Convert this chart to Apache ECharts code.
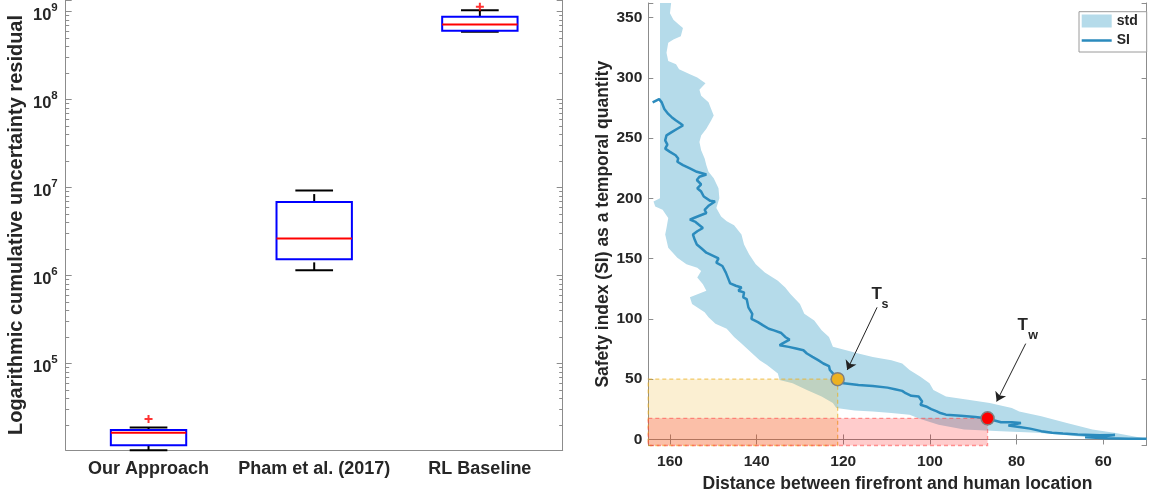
<!DOCTYPE html>
<html><head><meta charset="utf-8">
<script src="https://cdn.jsdelivr.net/npm/echarts@6/dist/echarts.min.js"></script>
<style>html,body{margin:0;padding:0;background:#fff}#c{width:1155px;height:501px}</style>
</head><body><div id="c"></div>
<script>
// ---------- Left panel: box plot (log scale) ----------
const categories = ['Our Approach', 'Pham et al. (2017)', 'RL Baseline'];
const whiskerLow = [1.03e4, 1.14e6, 5.87e8];
const quartile1 = [1.17e4, 1.53e6, 6.02e8];
const medians = [1.63e4, 2.63e6, 7.11e8];
const quartile3 = [1.75e4, 6.81e6, 8.69e8];
const whiskerHigh = [1.87e4, 9.25e6, 1.035e9];
const outlierCategory = [0, 2];
const outlierValue = [2.33e4, 1.13e9];
const logRange = [10350, 1.35e9];
const minorTickMantissas = [2, 3, 4, 5, 6, 7, 8, 9];
const minorTickDecades = [4, 5, 6, 7, 8];

// ---------- Right panel: safety index ----------
const siDistance = [164.0,162.5,161.9,161.3,160.4,159.6,158.6,157.5,157.0,158.3,159.6,160.8,161.1,160.6,161.1,160.0,158.7,158.1,158.3,157.0,155.4,153.8,151.6,153.2,153.8,152.8,153.7,152.8,152.2,150.7,149.6,151.0,152.0,151.6,154.5,155.4,154.1,152.4,153.7,154.7,154.3,153.8,152.7,151.6,149.9,148.8,149.3,147.9,147.1,146.5,146.1,144.8,143.5,144.2,142.9,143.1,142.3,141.9,141.0,141.2,139.7,138.5,137.2,136.0,134.3,133.4,132.4,134.1,134.7,132.6,130.9,129.2,128.4,127.1,125.8,124.6,123.3,123.1,122.4,121.8,121.3,
  120.8,119.9,116.5,113.2,109.8,108.1,106.4,105.6,104.3,102.6,101.8,102.2,100.9,99.7,98.4,97.6,96.3,92.9,89.5,86.7,
  85.3,83.6,81.1,79.0,81.9,79.4,76.9,74.3,71.8,69.3,65.9,60.8,57.3,60.8,64.2,59.2,54.1,50.0];
const siValue = [279.6,282.3,279.6,274.1,270.0,267.3,264.5,261.8,260.4,257.7,254.9,252.2,248.1,244.5,241.2,238.5,235.7,233.0,230.3,227.5,224.8,222.0,219.8,217.9,215.2,211.6,208.3,205.6,201.5,197.9,197.4,194.1,190.5,187.8,183.7,182.3,180.4,175.4,172.7,170.0,165.8,161.7,158.4,154.9,152.1,150.2,146.7,143.9,138.4,133.0,129.4,127.5,126.1,123.4,122.0,117.9,116.5,109.6,104.2,100.1,97.3,94.6,91.8,90.5,88.3,85.0,82.8,79.5,78.1,76.8,75.4,74.0,71.3,68.5,65.8,63.0,60.9,57.6,54.8,52.1,50.0,
  48.0,46.6,45.2,44.4,43.0,41.7,40.3,38.4,36.2,35.6,31.5,28.8,27.4,25.2,23.3,21.9,20.6,19.7,18.6,17.5,
  15.9,14.3,14.3,13.7,11.5,10.4,9.0,6.9,5.5,4.9,4.1,3.6,3.8,2.2,1.9,1.1,0.5,0.5];

const stdOuterDistance = [162.3,162.3,163.8,163.4,161.7,160.4,160.8,161.1,160.4,158.3,156.2,153.7,152.8,153.7,152.4,151.6,155.4,154.9,152.0,151.1,149.5,146.9,145.2,143.5,141.0,139.3,137.6,135.1,134.7,131.7,128.4,125.0,122.4,121.6,117.4,113.2,108.9,104.7,102.2,98.0,92.1,83.6,75.2,68.4,62.5,57.5,50.0];
const stdOuterValue = [366,200.1,197.4,193.3,190.5,183.7,175.4,170.0,159.0,150.8,145.3,142.5,139.8,134.3,128.8,123.4,117.9,112.4,105.5,101.4,95.9,91.8,85.0,79.5,71.3,65.8,61.7,54.8,49.3,46.6,41.1,35.6,30.2,26.0,24.1,23.3,21.9,20.6,17.0,12.3,8.2,6.9,5.5,3.6,1.4,0.5,0.0];
const stdInnerDistance = [159.6,160.0,159.2,157.9,157.0,157.5,159.2,160.4,160.8,160.4,158.6,157.9,155.4,153.7,151.8,153.2,152.8,151.1,149.9,150.5,151.6,152.8,153.2,152.8,152.0,151.6,151.1,149.9,148.8,148.6,149.3,148.2,146.9,145.2,143.5,142.9,141.7,140.2,138.1,135.1,133.4,132.2,130.0,129.0,126.7,125.0,123.3,122.4,116.5,113.2,108.9,106.4,104.7,102.2,100.1,99.2,96.3,91.2,86.2,81.1,79.4,74.3,68.4,62.5,57.5,50.0];
const stdInnerValue = [366,353.6,348.1,344.0,341.3,334.4,331.7,329.0,320.7,313.9,311.1,307.0,302.9,300.2,295.5,290.0,285.1,279.6,268.6,264.5,257.7,252.2,246.7,239.9,233.0,227.5,222.0,216.6,208.3,200.1,191.9,185.0,180.9,177.6,170.0,161.7,153.5,145.3,138.4,131.6,126.1,120.6,112.4,104.2,98.7,90.5,85.0,76.8,71.3,68.5,65.8,63.0,57.6,52.1,46.6,41.1,35.6,32.9,30.2,26.0,23.3,19.2,13.7,8.2,5.5,0.5];

const distanceRange = [50, 165];
const siRange = [-5, 362];
const tsPoint = [121.3, 50];
const twPoint = [86.7, 17.5];
const arrowTs = [[112.2, 109.6], [119.1, 57.6]];
const arrowTw = [[77.9, 79.5], [84.6, 31.5]];
const markLetters = ['T', 'T'];
const markLetterPos = [[112.3, 120.6], [78.6, 94.6]];
const subLetters = ['s', 'w'];
const subLetterPos = [[110.4, 111.8], [76.2, 86.4]];

// ---------- styles ----------
const FONT = '"Liberation Sans", Arial, Helvetica, sans-serif';
const TXT = '#262626';
const AX = '#8c8c8c';
const BAND = '#b5dbea';
const SI_COLOR = '#2b8bbd';

const chart = echarts.init(document.getElementById('c'), null, {renderer: 'canvas'});

const minorTickValues = [];
minorTickDecades.forEach(d => minorTickMantissas.forEach(m => minorTickValues.push(m * Math.pow(10, d))));

function renderBox(params, api) {
  const i = api.value(0);
  const low = api.coord([i, api.value(1)]);
  const q1 = api.coord([i, api.value(2)]);
  const med = api.coord([i, api.value(3)]);
  const q3 = api.coord([i, api.value(4)]);
  const high = api.coord([i, api.value(5)]);
  const band = api.size([1, 1], [i, 1e6])[0];
  const h = band * 0.2275;
  const c = h / 2;
  const x = q1[0];
  const wStyle = {stroke: '#000', lineWidth: 2, lineDash: [8, 4]};
  const capStyle = {stroke: '#000', lineWidth: 2};
  return {type: 'group', children: [
    {type: 'line', shape: {x1: x, y1: q3[1], x2: x, y2: high[1]}, style: wStyle},
    {type: 'line', shape: {x1: x, y1: low[1], x2: x, y2: q1[1]}, style: wStyle},
    {type: 'line', shape: {x1: x - c, y1: high[1], x2: x + c, y2: high[1]}, style: capStyle},
    {type: 'line', shape: {x1: x - c, y1: low[1], x2: x + c, y2: low[1]}, style: capStyle},
    {type: 'rect', shape: {x: x - h, y: q3[1], width: 2 * h, height: q1[1] - q3[1]}, style: {fill: 'none', stroke: '#0000ff', lineWidth: 2}},
    {type: 'line', shape: {x1: x - h, y1: med[1], x2: x + h, y2: med[1]}, style: {stroke: '#ff0000', lineWidth: 2}}
  ]};
}

function renderMinorTicks(params, api) {
  const cs = params.coordSys;
  const y = Math.round(api.coord([0, api.value(1)])[1]) + 0.5;
  const st = {stroke: AX, lineWidth: 1};
  return {type: 'group', children: [
    {type: 'line', shape: {x1: cs.x, y1: y, x2: cs.x + 3.5, y2: y}, style: st},
    {type: 'line', shape: {x1: cs.x + cs.width - 3.5, y1: y, x2: cs.x + cs.width, y2: y}, style: st}
  ]};
}

function renderBand(params, api) {
  const pts = [];
  for (let k = 0; k < stdOuterDistance.length; k++) pts.push(api.coord([stdOuterDistance[k], stdOuterValue[k]]));
  for (let k = stdInnerDistance.length - 1; k >= 0; k--) pts.push(api.coord([stdInnerDistance[k], stdInnerValue[k]]));
  return {type: 'polygon', shape: {points: pts}, style: {fill: BAND, stroke: 'none'}};
}

function rectRenderer(fill, stroke) {
  return function (params, api) {
    const a = api.coord([api.value(0), api.value(1)]);
    const b = api.coord([api.value(2), api.value(3)]);
    return {type: 'rect', shape: {x: Math.min(a[0], b[0]), y: Math.min(a[1], b[1]), width: Math.abs(b[0] - a[0]), height: Math.abs(b[1] - a[1])},
      style: {fill: fill, stroke: stroke, lineWidth: 1.3, lineDash: [4, 3]}};
  };
}

function textRenderer(texts, size) {
  return function (params, api) {
    const p = api.coord([api.value(0), api.value(1)]);
    return {type: 'text', x: p[0], y: p[1], style: {text: texts[params.dataIndex], fill: TXT,
      fontSize: size, fontWeight: 'bold', fontFamily: FONT, align: 'center', verticalAlign: 'middle'}};
  };
}

function logLabel(v) {
  const e = Math.log10(v);
  if (Math.abs(e - Math.round(e)) > 1e-6) return '';
  return '{b|10}{e|' + Math.round(e) + '}';
}

const boldText = {color: TXT, fontFamily: FONT, fontWeight: 'bold'};
const SI_ICON = 'path://M0,0H30V0.01H0Z M0,5.25H30V7.75H0Z M0,12.99H30V13H0Z';

const option = {
  animation: false,
  backgroundColor: '#fff',
  textStyle: {fontFamily: FONT},
  grid: [
    {left: 65.7, top: 0, width: 497, height: 450},
    {left: 648.3, top: 3, width: 498.3, height: 442.5}
  ],
  legend: {
    orient: 'vertical', left: 1079, top: 11.7,
    itemWidth: 30, itemHeight: 13, itemGap: 5.6,
    padding: [2.3, 9, 4.4, 2.7],
    borderColor: '#9a9a9a', borderWidth: 1, backgroundColor: '#fff',
    textStyle: Object.assign({fontSize: 14}, boldText),
    data: [{name: 'std', icon: 'rect'}, {name: 'SI', icon: SI_ICON}]
  },
  xAxis: [
    {type: 'category', gridIndex: 0, data: categories,
     axisLine: {lineStyle: {color: AX}},
     axisTick: {inside: true, alignWithLabel: true, length: 5, lineStyle: {color: AX}},
     axisLabel: Object.assign({fontSize: 18, margin: 10, interval: 0}, boldText),
     splitLine: {show: false}},
    {type: 'category', gridIndex: 0, position: 'top', data: categories,
     axisLine: {show: false},
     axisTick: {inside: true, alignWithLabel: true, length: 5, lineStyle: {color: AX}},
     axisLabel: {show: false}, splitLine: {show: false}},
    {type: 'value', gridIndex: 1, inverse: true, min: distanceRange[0], max: distanceRange[1], splitNumber: 6,
     axisLine: {lineStyle: {color: AX}},
     axisTick: {inside: true, length: 5, lineStyle: {color: AX}},
     axisLabel: Object.assign({fontSize: 15.5, margin: 8, formatter: v => (v % 20 === 0 ? String(v) : '')}, boldText),
     splitLine: {show: false},
     name: 'Distance between firefront and human location', nameLocation: 'middle', nameGap: 30,
     nameTextStyle: Object.assign({fontSize: 17.5}, boldText)},
    {type: 'value', gridIndex: 1, inverse: true, position: 'top', min: distanceRange[0], max: distanceRange[1], splitNumber: 6,
     axisLine: {lineStyle: {color: AX}},
     axisTick: {inside: true, length: 5, lineStyle: {color: AX}},
     axisLabel: {show: false}, splitLine: {show: false}}
  ],
  yAxis: [
    {type: 'log', gridIndex: 0, min: logRange[0], max: logRange[1], logBase: 10,
     axisLine: {show: true, lineStyle: {color: AX}},
     axisTick: {show: true, inside: true, length: 6, lineStyle: {color: AX}},
     axisLabel: {margin: 8, formatter: logLabel, rich: {
       b: Object.assign({fontSize: 16.5, padding: [8, 0, 0, 0]}, boldText),
       e: Object.assign({fontSize: 11.5, padding: [0, 0, 8, 0]}, boldText)}},
     splitLine: {show: false},
     name: 'Logarithmic cumulative uncertainty residual', nameLocation: 'middle', nameGap: 39,
     nameTextStyle: Object.assign({fontSize: 20}, boldText)},
    {type: 'log', gridIndex: 0, position: 'right', min: logRange[0], max: logRange[1], logBase: 10,
     axisLine: {show: true, lineStyle: {color: AX}},
     axisTick: {show: true, inside: true, length: 6, lineStyle: {color: AX}},
     axisLabel: {show: false}, splitLine: {show: false}},
    {type: 'value', gridIndex: 1, min: siRange[0], max: siRange[1], splitNumber: 7,
     axisLine: {show: true, lineStyle: {color: AX}},
     axisTick: {show: true, inside: true, length: 5, lineStyle: {color: AX}},
     axisLabel: Object.assign({fontSize: 15.5, margin: 6, formatter: v => (v % 50 === 0 ? String(v) : '')}, boldText),
     splitLine: {show: false},
     name: 'Safety index (SI) as a temporal quantity', nameLocation: 'middle', nameGap: 35,
     nameTextStyle: Object.assign({fontSize: 17.5}, boldText)},
    {type: 'value', gridIndex: 1, position: 'right', min: siRange[0], max: siRange[1], splitNumber: 7,
     axisLine: {show: true, lineStyle: {color: AX}},
     axisTick: {show: true, inside: true, length: 5, lineStyle: {color: AX}},
     axisLabel: {show: false}, splitLine: {show: false}}
  ],
  series: [
    {type: 'custom', name: 'minorTicks', xAxisIndex: 0, yAxisIndex: 0,
     data: minorTickValues.map(v => [0, v]), renderItem: renderMinorTicks, silent: true, z: 5},
    {type: 'custom', name: 'box', xAxisIndex: 0, yAxisIndex: 0,
     data: categories.map((c, i) => [i, whiskerLow[i], quartile1[i], medians[i], quartile3[i], whiskerHigh[i]]),
     renderItem: renderBox, z: 2},
    {type: 'scatter', name: 'outliers', xAxisIndex: 0, yAxisIndex: 0,
     data: outlierCategory.map((c, i) => [c, outlierValue[i]]),
     symbol: 'path://M3,0H5V3H8V5H5V8H3V5H0V3H3Z', symbolSize: 8,
     itemStyle: {color: '#ff0000'}, z: 3},
    {type: 'custom', name: 'std', xAxisIndex: 2, yAxisIndex: 2, clip: true,
     data: [[stdOuterDistance[0], stdOuterValue[0]]],
     itemStyle: {color: BAND},
     renderItem: renderBand, z: 1},
    {type: 'custom', name: 'safeZone', xAxisIndex: 2, yAxisIndex: 2,
     data: [[distanceRange[1], siRange[0], tsPoint[0], tsPoint[1]]],
     renderItem: rectRenderer('rgba(237,177,32,0.2)', 'rgba(237,177,32,0.65)'), z: 2},
    {type: 'custom', name: 'warnZone', xAxisIndex: 2, yAxisIndex: 2,
     data: [[distanceRange[1], siRange[0], twPoint[0], twPoint[1]]],
     renderItem: rectRenderer('rgba(255,0,0,0.2)', 'rgba(255,70,70,0.55)'), z: 3},
    {type: 'line', name: 'SI', xAxisIndex: 2, yAxisIndex: 2,
     data: siDistance.map((d, i) => [d, siValue[i]]),
     symbol: 'none', lineStyle: {color: SI_COLOR, width: 2.5}, itemStyle: {color: SI_COLOR}, z: 4},
    {type: 'scatter', name: 'Ts', xAxisIndex: 2, yAxisIndex: 2, data: [tsPoint],
     symbolSize: 13, itemStyle: {color: '#EDB120', borderColor: '#7f7f7f', borderWidth: 1.5, opacity: 1}, z: 6},
    {type: 'scatter', name: 'Tw', xAxisIndex: 2, yAxisIndex: 2, data: [twPoint],
     symbolSize: 13, itemStyle: {color: '#ff0000', borderColor: '#7f7f7f', borderWidth: 1.5, opacity: 1}, z: 6},
    {type: 'lines', name: 'arrows', coordinateSystem: 'cartesian2d', xAxisIndex: 2, yAxisIndex: 2,
     data: [{coords: arrowTs}, {coords: arrowTw}],
     symbol: ['none', 'arrow'], symbolSize: [0, 9],
     lineStyle: {color: '#222', width: 1, opacity: 1, curveness: 0}, z: 7},
    {type: 'custom', name: 'labelT', xAxisIndex: 2, yAxisIndex: 2, data: markLetterPos,
     renderItem: textRenderer(markLetters, 17), silent: true, z: 8},
    {type: 'custom', name: 'labelSub', xAxisIndex: 2, yAxisIndex: 2, data: subLetterPos,
     renderItem: textRenderer(subLetters, 12.5), silent: true, z: 8}
  ]
};
chart.setOption(option);
</script>
</body></html>
